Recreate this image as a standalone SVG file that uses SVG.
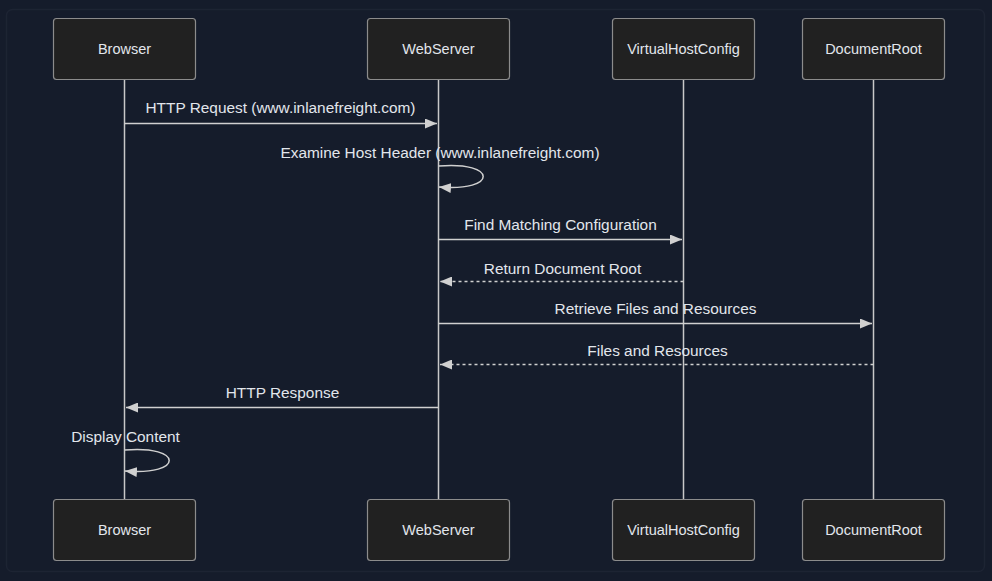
<svg xmlns="http://www.w3.org/2000/svg" width="992" height="581" viewBox="0 0 992 581">
<defs>
<style>
.actor{fill:#212121;stroke:#8c8c8c;stroke-width:1.2}
.atxt{fill:#e2e6ec;font-family:"Liberation Sans",Arial,sans-serif;font-size:14.5px;text-anchor:middle;dominant-baseline:central}
.life{stroke:#c8c8c8;stroke-width:1.5}
.msg{stroke:#d0d0d0;stroke-width:1.5;fill:none}
.dash{stroke-dasharray:3,3}
.mtxt{fill:#e2e6ec;font-family:"Liberation Sans",Arial,sans-serif;font-size:15.4px;text-anchor:middle}
</style>
<marker id="ah" viewBox="0 0 12 10" refX="12" refY="5" markerWidth="12" markerHeight="10" markerUnits="userSpaceOnUse" orient="auto">
<path d="M0,0 L12,5 L0,10 Z" fill="#d0d0d0"/>
</marker>
</defs>
<rect width="992" height="581" fill="#151c2b"/>
<rect x="6.5" y="9.5" width="978" height="562" rx="6" fill="#151c2b" stroke="#1d2433" stroke-width="1.5"/>
<g id="lifelines">
<line class="life" x1="124.5" y1="80" x2="124.5" y2="499"/>
<line class="life" x1="438.5" y1="80" x2="438.5" y2="499"/>
<line class="life" x1="683.5" y1="80" x2="683.5" y2="499"/>
<line class="life" x1="873.5" y1="80" x2="873.5" y2="499"/>
</g>
<g id="browser-top"><rect class="actor" x="53.5" y="18.5" width="142" height="61" rx="3"/><text class="atxt" x="124.5" y="49">Browser</text></g>
<g id="webserver-top"><rect class="actor" x="367.5" y="18.5" width="142" height="61" rx="3"/><text class="atxt" x="438.5" y="49">WebServer</text></g>
<g id="vhost-top"><rect class="actor" x="612.5" y="18.5" width="142" height="61" rx="3"/><text class="atxt" x="683.5" y="49">VirtualHostConfig</text></g>
<g id="docroot-top"><rect class="actor" x="802.5" y="18.5" width="142" height="61" rx="3"/><text class="atxt" x="873.5" y="49">DocumentRoot</text></g>
<g id="browser-bottom"><rect class="actor" x="53.5" y="499.5" width="142" height="61" rx="3"/><text class="atxt" x="124.5" y="530">Browser</text></g>
<g id="webserver-bottom"><rect class="actor" x="367.5" y="499.5" width="142" height="61" rx="3"/><text class="atxt" x="438.5" y="530">WebServer</text></g>
<g id="vhost-bottom"><rect class="actor" x="612.5" y="499.5" width="142" height="61" rx="3"/><text class="atxt" x="683.5" y="530">VirtualHostConfig</text></g>
<g id="docroot-bottom"><rect class="actor" x="802.5" y="499.5" width="142" height="61" rx="3"/><text class="atxt" x="873.5" y="530">DocumentRoot</text></g>
<g id="connectors">
<line class="msg" x1="124.5" y1="123.5" x2="437" y2="123.5" marker-end="url(#ah)"/>
<path class="msg" d="M438.5,166 C498,161 498,192 439,187" marker-end="url(#ah)"/>
<line class="msg" x1="438.5" y1="239.5" x2="682" y2="239.5" marker-end="url(#ah)"/>
<line class="msg dash" x1="683.5" y1="281.5" x2="440" y2="281.5" marker-end="url(#ah)"/>
<line class="msg" x1="438.5" y1="323.5" x2="872" y2="323.5" marker-end="url(#ah)"/>
<line class="msg dash" x1="873.5" y1="364.5" x2="440" y2="364.5" marker-end="url(#ah)"/>
<line class="msg" x1="438.5" y1="407.5" x2="126" y2="407.5" marker-end="url(#ah)"/>
<path class="msg" d="M124.5,450 C184,445 184,476 125,471" marker-end="url(#ah)"/>
</g>
<g id="labels">
<text class="mtxt" x="280.5" y="113">HTTP Request (www.inlanefreight.com)</text>
<text class="mtxt" x="440" y="158">Examine Host Header (www.inlanefreight.com)</text>
<text class="mtxt" x="560.5" y="230">Find Matching Configuration</text>
<text class="mtxt" x="562.5" y="274">Return Document Root</text>
<text class="mtxt" x="655.5" y="314">Retrieve Files and Resources</text>
<text class="mtxt" x="657.5" y="356">Files and Resources</text>
<text class="mtxt" x="282.5" y="398">HTTP Response</text>
<text class="mtxt" x="125.5" y="442">Display Content</text>
</g>
</svg>
